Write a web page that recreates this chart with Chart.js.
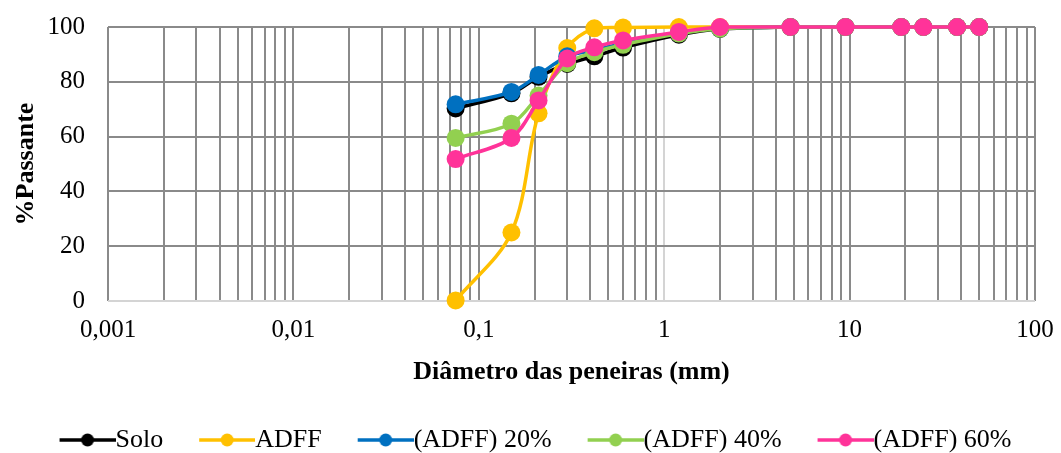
<!DOCTYPE html>
<html>
<head>
<meta charset="utf-8">
<script src="https://cdn.jsdelivr.net/npm/chart.js@4/dist/chart.umd.min.js"></script>
<style>
  html, body { margin: 0; padding: 0; background: #fff; }
  #wrap { width: 1061px; height: 453px; }
</style>
</head>
<body>
<div id="wrap"><canvas id="chart" width="1061" height="453"></canvas></div>
<script>
// Diâmetro das peneiras (mm)
const sieveSizes = [0.075, 0.15, 0.21, 0.3, 0.42, 0.6, 1.2, 2.0, 4.8, 9.5, 19, 25, 38, 50];

// % Passante por série
const solo   = [70.3, 75.8, 81.8, 86.5, 89.3, 92.5, 97.2, 99.3, 100, 100, 100, 100, 100, 100];
const adff   = [0.2, 25, 68.5, 92.3, 99.5, 99.8, 100, 100, 100, 100, 100, 100, 100, 100];
const adff20 = [71.8, 76.3, 82.5, 89.3, 91.5, 94.0, 97.8, 99.5, 100, 100, 100, 100, 100, 100];
const adff40 = [59.5, 64.7, 75.0, 86.8, 90.8, 93.5, 97.6, 99.4, 100, 100, 100, 100, 100, 100];
const adff60 = [51.8, 59.5, 73.2, 88.5, 92.6, 95.1, 98.2, 100, 100, 100, 100, 100, 100, 100];

const seriesLabels = ['Solo', 'ADFF', '(ADFF) 20%', '(ADFF) 40%', '(ADFF) 60%'];
const seriesColors = ['#000000', '#FFC000', '#0070C0', '#92D050', '#FF3399'];
const seriesValues = [solo, adff, adff20, adff40, adff60];

// eixo x: décadas e rótulos
const xDecades = [0.001, 0.01, 0.1, 1, 10, 100];
const xTickLabels = ['0,001', '0,01', '0,1', '1', '10', '100'];

const FONT = "'Liberation Serif', 'Times New Roman', serif";
Chart.defaults.font.family = FONT;
Chart.defaults.color = '#000';

// linhas de grade em 1..9 de cada década
const gridValues = [];
xDecades.slice(0, -1).forEach(d => {
    for (let m = 1; m <= 9; m++) gridValues.push(+(m * d).toPrecision(6));
});
gridValues.push(xDecades[xDecades.length - 1]);

// ícone da legenda: linha com marcador
const LEG_W = 79;
function legendIcon(color) {
    const c = document.createElement('canvas');
    c.width = LEG_W + 26;
    c.height = 18;
    const g = c.getContext('2d');
    const x0 = c.width - 56, x1 = c.width;
    g.strokeStyle = color;
    g.lineWidth = 3.5;
    g.beginPath();
    g.moveTo(x0, 9);
    g.lineTo(x1, 9);
    g.stroke();
    g.fillStyle = color;
    g.beginPath();
    g.arc((x0 + x1) / 2, 9, 6.5, 0, Math.PI * 2);
    g.fill();
    return c;
}
const legendIcons = seriesColors.map(legendIcon);

const datasets = seriesValues.map((vals, i) => ({
    label: seriesLabels[i],
    data: sieveSizes.map((x, k) => ({ x: x, y: vals[k] })),
    borderColor: seriesColors[i],
    backgroundColor: seriesColors[i],
    borderWidth: 3.5,
    pointRadius: 9,
    pointBorderWidth: 0,
    pointHoverRadius: 9,
    tension: 0.33,
    clip: false,
    order: seriesLabels.length - i,
}));

new Chart(document.getElementById('chart'), {
    type: 'line',
    data: { datasets: datasets },
    options: {
        responsive: false,
        animation: false,
        events: [],
        layout: { autoPadding: false, padding: { left: 0, right: 26, top: 27, bottom: -10 } },
        scales: {
            x: {
                type: 'logarithmic',
                min: 0.001,
                max: 100,
                afterBuildTicks: (scale) => {
                    scale.ticks = gridValues.map(v => ({ value: v }));
                },
                afterFit: (scale) => {
                    scale.height = 126;
                    scale.paddingLeft = 0;
                    scale.paddingRight = 0;
                },
                ticks: {
                    autoSkip: false,
                    maxRotation: 0,
                    padding: 14,
                    font: { size: 25 },
                    callback: (v) => {
                        const idx = xDecades.findIndex(d => Math.abs(d - v) < d * 1e-6);
                        return idx >= 0 ? xTickLabels[idx] : '';
                    },
                },
                grid: {
                    drawTicks: false,
                    lineWidth: 2,
                    color: (ctx) => (ctx.tick && ctx.tick.value === 1) ? '#d4d4d4' : '#8a8a8a',
                },
                border: { display: false },
                title: {
                    display: true,
                    text: 'Diâmetro das peneiras (mm)',
                    font: { size: 26, weight: 'bold', lineHeight: 1.2 },
                    padding: { top: 0, bottom: 39 },
                },
            },
            y: {
                min: 0,
                max: 100,
                afterFit: (scale) => {
                    scale.width = 108;
                    scale.paddingTop = 0;
                    scale.paddingBottom = 0;
                },
                ticks: { stepSize: 20, padding: 23, font: { size: 25 } },
                grid: {
                    drawTicks: false,
                    lineWidth: 2,
                    color: (ctx) => (ctx.tick && ctx.tick.value === 0) ? '#d4d4d4' : '#8a8a8a',
                },
                border: { display: false },
                title: {
                    display: true,
                    text: '%Passante',
                    font: { size: 26, weight: 'bold', lineHeight: 1.2 },
                    padding: { top: 11, bottom: 0 },
                },
            },
        },
        plugins: {
            tooltip: { enabled: false },
            legend: {
                position: 'bottom',
                labels: {
                    usePointStyle: true,
                    pointStyleWidth: LEG_W,
                    padding: 0,
                    font: { size: 26 },
                    color: '#000',
                    sort: (a, b) => a.datasetIndex - b.datasetIndex,
                    generateLabels: (chart) => {
                        const items = Chart.defaults.plugins.legend.labels.generateLabels(chart);
                        return items.map(it => Object.assign(it, { pointStyle: legendIcons[it.datasetIndex] }));
                    },
                },
            },
        },
    },
});
</script>
</body>
</html>
